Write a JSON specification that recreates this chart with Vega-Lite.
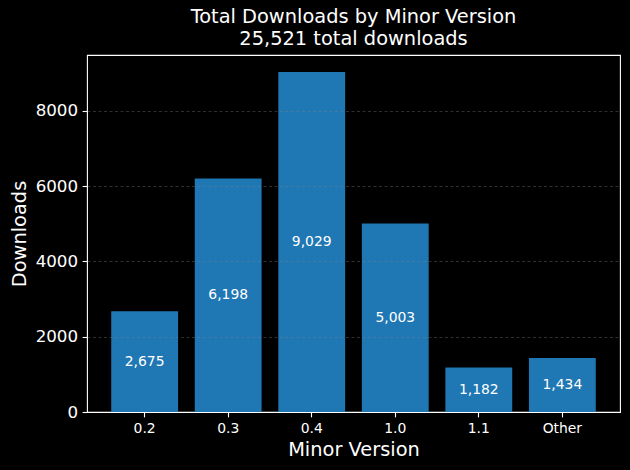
{
  "$schema": "https://vega.github.io/schema/vega-lite/v6.json",
  "autosize": "none",
  "width": 533,
  "height": 357,
  "padding": {"left": 87, "top": 55, "right": 10, "bottom": 58},
  "background": "black",
  "config": {
    "font": "DejaVu Sans",
    "view": {"stroke": "white", "strokeWidth": 1.1},
    "axis": {
      "domain": false,
      "tickColor": "white",
      "tickSize": 4.9,
      "tickWidth": 1.1,
      "labelColor": "white",
      "titleColor": "white",
      "titleFont": "DejaVu Sans",
      "labelFont": "DejaVu Sans",
      "titleFontWeight": "normal",
      "titleFontSize": 19.4,
      "labelPadding": 4.5
    }
  },
  "title": {
    "text": ["Total Downloads by Minor Version", "25,521 total downloads"],
    "color": "white",
    "font": "DejaVu Sans",
    "fontSize": 19.4,
    "fontWeight": "normal",
    "anchor": "middle",
    "lineHeight": 22,
    "offset": 6
  },
  "data": {
    "values": [
      {"version": "0.2", "downloads": 2675, "label": "2,675"},
      {"version": "0.3", "downloads": 6198, "label": "6,198"},
      {"version": "0.4", "downloads": 9029, "label": "9,029"},
      {"version": "1.0", "downloads": 5003, "label": "5,003"},
      {"version": "1.1", "downloads": 1182, "label": "1,182"},
      {"version": "Other", "downloads": 1434, "label": "1,434"}
    ]
  },
  "encoding": {
    "x": {
      "field": "version",
      "type": "nominal",
      "sort": null,
      "scale": {"paddingInner": 0.2, "paddingOuter": 0.29},
      "axis": {
        "title": "Minor Version",
        "labelAngle": 0,
        "labelFontSize": 13.9,
        "titlePadding": 5,
        "grid": false,
        "domain": true,
        "domainColor": "white",
        "domainWidth": 1.1,
        "zindex": 2
      }
    }
  },
  "layer": [
    {
      "mark": {"type": "bar", "color": "#1f77b4"},
      "encoding": {
        "y": {
          "field": "downloads",
          "type": "quantitative",
          "scale": {"domain": [0, 9480], "nice": false},
          "axis": {
            "title": "Downloads",
            "values": [0, 2000, 4000, 6000, 8000],
            "format": "d",
            "labelFontSize": 16.7,
            "titlePadding": 6,
            "grid": true,
            "gridColor": "#808080",
            "gridOpacity": 0.45,
            "gridDash": [3, 2.5],
            "gridWidth": 0.8,
            "zindex": 1
          }
        }
      }
    },
    {
      "transform": [{"calculate": "datum.downloads / 2", "as": "mid"}],
      "mark": {"type": "text", "color": "white", "fontSize": 13.9, "baseline": "middle", "align": "center"},
      "encoding": {
        "y": {"field": "mid", "type": "quantitative"},
        "text": {"field": "label"}
      }
    }
  ]
}
